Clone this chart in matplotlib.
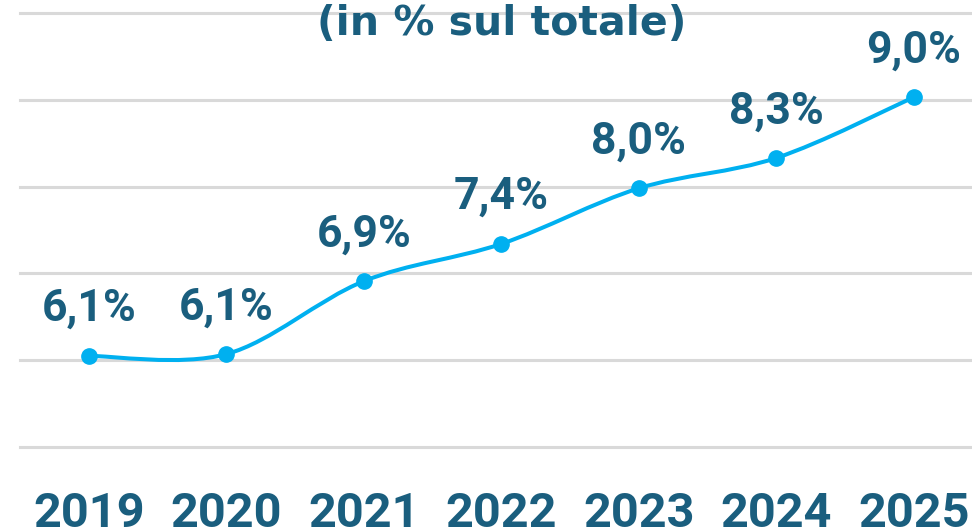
import numpy as np
import matplotlib
matplotlib.use("Agg")
import matplotlib.pyplot as plt
from matplotlib.path import Path
from matplotlib.patches import PathPatch

# data
years = ['2019', '2020', '2021', '2022', '2023', '2024', '2025']
share = [6.05, 6.07, 6.91, 7.34, 7.98, 8.33, 9.03]
labels = ['6,1%', '6,1%', '6,9%', '7,4%', '8,0%', '8,3%', '9,0%']

line_col = '#00B0F0'
text_col = '#1A5E7E'
grid_col = '#D9D9D9'

fig = plt.figure(figsize=(9.72, 5.32), dpi=100)
ax = fig.add_axes([20 / 972, 85 / 532, 962.5 / 972, 434 / 532])

x = np.arange(len(years))
y = np.array(share)

# smoothed line (catmull-rom as bezier, like excel "smoothed line")
xp = np.concatenate([[x[0]], x, [x[-1]]])
yp = np.concatenate([[y[0]], y, [y[-1]]])
verts = [(x[0], y[0])]
codes = [Path.MOVETO]
for i in range(1, len(xp) - 2):
    c1 = (xp[i] + (xp[i + 1] - xp[i - 1]) / 6, yp[i] + (yp[i + 1] - yp[i - 1]) / 6)
    c2 = (xp[i + 1] - (xp[i + 2] - xp[i]) / 6, yp[i + 1] - (yp[i + 2] - yp[i]) / 6)
    verts += [c1, c2, (xp[i + 1], yp[i + 1])]
    codes += [Path.CURVE4] * 3
ax.add_patch(PathPatch(Path(verts, codes), fill=False, ec=line_col, lw=2.9,
                       capstyle='round', zorder=3))
ax.plot(x, y, 'o', color=line_col, ms=11, zorder=4)

for xi, yi, lab in zip(x, y, labels):
    ax.annotate(lab, (xi, yi), xytext=(0, 25), textcoords='offset points',
                ha='center', va='baseline', fontsize=32, fontweight='bold',
                family='Roboto', color=text_col)

ax.set_xlim(-0.5, 6.5)
ax.set_ylim(5, 10)
ax.set_yticks([5, 6, 7, 8, 9, 10])
ax.yaxis.grid(True, color=grid_col, lw=2.2)
for gl in ax.get_ygridlines():
    gl.set_clip_on(False)
ax.set_axisbelow(True)
ax.tick_params(axis='y', left=False, labelleft=False)
ax.set_xticks(x)
ax.set_xticklabels(years, fontsize=35, fontweight='bold', family='Roboto', color=text_col)
ax.tick_params(axis='x', bottom=False, pad=28)
for s in ax.spines.values():
    s.set_visible(False)

fig.text(502 / 972, 1 - 35 / 532, '(in % sul totale)', ha='center', va='baseline',
         fontsize=29.5, fontweight='bold', family='DejaVu Sans', color=text_col)

fig.savefig('out.png', dpi=100)
